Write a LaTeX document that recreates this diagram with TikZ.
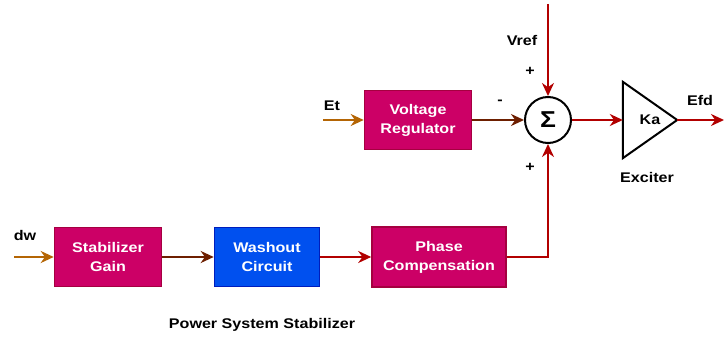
\documentclass[tikz,border=0pt]{standalone}
\usepackage{fontspec}
\setmainfont[FakeStretch=1.15]{Liberation Sans}
\usetikzlibrary{positioning, calc, arrows.meta}
\definecolor{blkM}{HTML}{CC0066}
\definecolor{blkMd}{HTML}{A50040}
\definecolor{blkB}{HTML}{0050EF}
\definecolor{blkBd}{HTML}{001DBC}
\definecolor{sigIn}{HTML}{B46504}
\definecolor{sigBr}{HTML}{6D1F00}
\definecolor{sigRd}{HTML}{B20000}
\tikzset{
  txt/.style={font=\fontsize{14}{19}\selectfont\bfseries},
  block/.style={txt, draw=blkMd, fill=blkM, line width=1.6pt, text=white,
    align=center, inner sep=0pt, minimum height=59pt},
  wire/.style={line width=2.6pt, -{Stealth[length=13pt,width=12pt]}},
  lbl/.style={txt, inner sep=1pt}
}
\begin{document}
\begin{tikzpicture}[x=1pt, y=-1pt]
        \useasboundingbox (0,0) rectangle (724,339);

        % voltage loop
        \node[block, minimum width=107pt] (vreg) at (418,120) {Voltage\\Regulator};
        \node[draw, circle, line width=2pt, minimum size=46pt, inner sep=0pt,
          font=\fontsize{23}{23}\selectfont\bfseries] (sum) at (548,120) {Σ};
        \node[txt, minimum width=54pt, minimum height=76pt, inner sep=0pt] (exc) at (650,120) {Ka};
        \draw[line width=2pt, line join=miter] (exc.north west) -- (exc.east) -- (exc.south west) -- cycle;

        \node[lbl] (vreflbl) at (522,40) {Vref};
        \node[lbl] (plustop) at (530,71) {+};
        \node[lbl] (minus) at (500,102) {-};
        \node[lbl] (plusbot) at (530,167) {+};
        \node[lbl] (etlbl) at (332,106) {Et};
        \node[lbl] (efdlbl) at (700,100) {Efd};
        \node[lbl] (exclbl) at (647,177) {Exciter};

        % stabilizer
        \node[block, minimum width=107pt] (gain) at (108,257) {Stabilizer\\Gain};
        \node[block, minimum width=105pt, draw=blkBd, fill=blkB] (wash) at (267,257) {Washout\\Circuit};
        \node[block, minimum width=134pt, minimum height=60pt] (phase) at (439,257) {Phase\\Compensation};
        \node[lbl] (dwlbl) at (25,235) {dw};
        \node[lbl] (psslbl) at (262,325) {Power System Stabilizer};

        \coordinate (etin) at (323,120);
        \coordinate (dwin) at (14,257);
        \coordinate (vrefin) at (548,4);
        \coordinate (efdout) at (724,120);

        \draw[wire, sigIn] (etin) -- (vreg);
        \draw[wire, sigBr] (vreg) -- (sum);
        \draw[wire, sigRd] (vrefin) -- (sum);
        \draw[wire, sigRd] (sum) -- (exc.west);
        \draw[wire, sigRd] (exc.east) -- (efdout);
        \draw[wire, sigIn] (dwin) -- (gain);
        \draw[wire, sigBr] (gain) -- (wash);
        \draw[wire, sigRd] (wash) -- (phase);
        \draw[wire, sigRd] (phase.east) -| (sum);
      \end{tikzpicture}
\end{document}
